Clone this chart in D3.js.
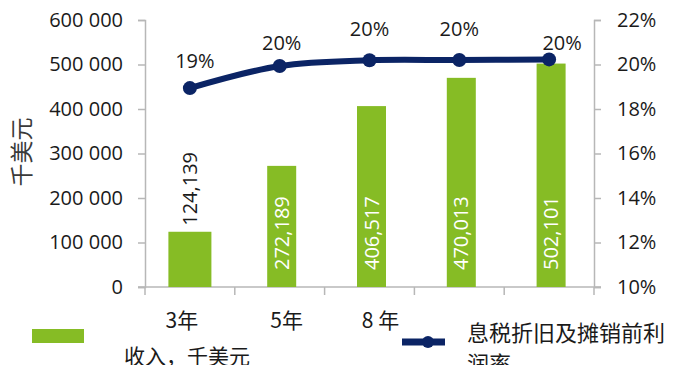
<!DOCTYPE html>
<html>
<head>
<meta charset="utf-8">
<script src="https://cdn.jsdelivr.net/npm/d3@7"></script>
<style>
  html, body { margin: 0; padding: 0; background: #fff; }
  svg { display: block; }
</style>
</head>
<body>
<div id="vis"></div>
<script>
// Revenue bars (left axis, thousand USD) + EBITDA margin line (right axis).

const CATEGORIES = ["3年", "5年", "8 年", "", ""];
const REVENUE    = [124139, 272189, 406517, 470013, 502101];
const MARGIN     = [0.1894, 0.1993, 0.2019, 0.2020, 0.2023];
const MARGIN_LBL = ["19%", "20%", "20%", "20%", "20%"];
const LEFT_TICKS  = [0, 100000, 200000, 300000, 400000, 500000, 600000];
const RIGHT_TICKS = [0.10, 0.12, 0.14, 0.16, 0.18, 0.20, 0.22];

// layout tweaks (Excel places things a bit unevenly)
const BAR_W      = [43, 29, 29, 29, 29];
const BAR_DX     = [0, 2, 2, 2, 2];
const TICK_DX    = [-8, 7, 11, 0, 0];
const PCT_DX     = [5, 2, 0, 0, 13];
const PCT_DY     = [-20, -16, -24, -24, -9];

const GREEN = "#86BC25";
const NAVY  = "#0B2465";
const GRID  = "#B7B7B7";
const NUM_FONT = "'Open Sans', sans-serif";
const CJK_FONT = "'Noto Sans CJK SC', sans-serif";

const W = 680, H = 365;
const plot = { left: 145, right: 594, top: 20, bottom: 287 };

const svg = d3.select("#vis").append("svg")
  .attr("width", W).attr("height", H);

const x = d3.scaleBand()
  .domain(d3.range(CATEGORIES.length))
  .range([plot.left, plot.right])
  .padding(0);

const yL = d3.scaleLinear().domain([0, 600000]).range([plot.bottom, plot.top]);
const yR = d3.scaleLinear().domain([0.10, 0.22]).range([plot.bottom, plot.top]);

const cx = i => x(i) + x.bandwidth() / 2;

// ── Axes ──────────────────────────────────────────────────────────────────

const spaceFmt = d => d3.format(",")(d).replace(/,/g, " ");

svg.append("g")
  .attr("transform", `translate(${plot.left},0)`)
  .call(d3.axisLeft(yL).tickValues(LEFT_TICKS).tickSize(7).tickPadding(15).tickFormat(spaceFmt))
  .call(g => g.select(".domain").attr("stroke", GRID).attr("stroke-width", 1.5))
  .call(g => g.selectAll(".tick line").attr("stroke", GRID).attr("stroke-width", 1.5))
  .call(g => g.selectAll("text")
    .style("font-family", NUM_FONT).style("font-size", "20px").attr("fill", "#1a1a1a"));

svg.append("g")
  .attr("transform", `translate(${plot.right},0)`)
  .call(d3.axisRight(yR).tickValues(RIGHT_TICKS).tickSize(7).tickPadding(16).tickFormat(d3.format(".0%")))
  .call(g => g.select(".domain").attr("stroke", GRID).attr("stroke-width", 1.5))
  .call(g => g.selectAll(".tick line").attr("stroke", GRID).attr("stroke-width", 1.5))
  .call(g => g.selectAll("text")
    .style("font-family", NUM_FONT).style("font-size", "20px").attr("fill", "#1a1a1a"));

// bottom axis with ticks on category boundaries
const bottom = svg.append("g");
bottom.append("line")
  .attr("x1", plot.left - 7).attr("x2", plot.right + 7)
  .attr("y1", plot.bottom).attr("y2", plot.bottom)
  .attr("stroke", GRID).attr("stroke-width", 1.5);
bottom.selectAll("line.tk")
  .data(d3.range(CATEGORIES.length + 1))
  .join("line").attr("class", "tk")
  .attr("x1", i => i < CATEGORIES.length ? x(i) : plot.right)
  .attr("x2", i => i < CATEGORIES.length ? x(i) : plot.right)
  .attr("y1", plot.bottom).attr("y2", plot.bottom + 8)
  .attr("stroke", GRID).attr("stroke-width", 1.5);
bottom.selectAll("text")
  .data(CATEGORIES)
  .join("text")
  .attr("x", (d, i) => cx(i) + TICK_DX[i])
  .attr("y", 328)
  .attr("text-anchor", "middle")
  .style("font-family", CJK_FONT).style("font-size", "21px")
  .attr("fill", "#1a1a1a")
  .text(d => d);

// y title
svg.append("text")
  .attr("transform", `translate(30,152) rotate(-90)`)
  .attr("text-anchor", "middle")
  .style("font-family", CJK_FONT).style("font-size", "23px")
  .attr("fill", "#3a3a3a")
  .text("千美元");

// ── Bars ──────────────────────────────────────────────────────────────────

svg.append("g").selectAll("rect")
  .data(REVENUE)
  .join("rect")
  .attr("x", (d, i) => cx(i) + BAR_DX[i] - BAR_W[i] / 2)
  .attr("width", (d, i) => BAR_W[i])
  .attr("y", d => yL(d))
  .attr("height", d => plot.bottom - yL(d))
  .attr("fill", GREEN);

// bar labels: first one above the bar (dark), others inside (white)
svg.append("g").selectAll("text")
  .data(REVENUE)
  .join("text")
  .attr("transform", (d, i) => {
    const tx = cx(i) + BAR_DX[i] + 7;
    const ty = i === 0 ? yL(d) - 6 : plot.bottom - 17;
    return `translate(${tx},${ty}) rotate(-90)`;
  })
  .attr("text-anchor", "start")
  .style("font-family", NUM_FONT).style("font-size", "20px")
  .attr("fill", (d, i) => i === 0 ? "#1a1a1a" : "#fff")
  .text(d => d3.format(",")(d));

// ── Margin line ───────────────────────────────────────────────────────────

const line = d3.line()
  .x((d, i) => cx(i))
  .y(d => yR(d))
  .curve(d3.curveCatmullRom.alpha(0.5));

svg.append("path")
  .datum(MARGIN)
  .attr("d", line)
  .attr("fill", "none")
  .attr("stroke", NAVY)
  .attr("stroke-width", 6)
  .attr("stroke-linecap", "round");

svg.append("g").selectAll("circle")
  .data(MARGIN)
  .join("circle")
  .attr("cx", (d, i) => cx(i))
  .attr("cy", d => yR(d))
  .attr("r", 7)
  .attr("fill", NAVY);

svg.append("g").selectAll("text")
  .data(MARGIN)
  .join("text")
  .attr("x", (d, i) => cx(i) + PCT_DX[i])
  .attr("y", (d, i) => yR(d) + PCT_DY[i])
  .attr("text-anchor", "middle")
  .style("font-family", NUM_FONT).style("font-size", "20px")
  .attr("fill", "#1a1a1a")
  .text((d, i) => MARGIN_LBL[i]);

// ── Legend ────────────────────────────────────────────────────────────────

svg.append("rect")
  .attr("x", 32).attr("y", 329).attr("width", 52).attr("height", 14)
  .attr("fill", GREEN);
svg.append("text")
  .attr("x", 124).attr("y", 364)
  .style("font-family", CJK_FONT).style("font-size", "21px")
  .attr("fill", "#1a1a1a")
  .text("收入，千美元");

svg.append("line")
  .attr("x1", 402).attr("x2", 445).attr("y1", 342).attr("y2", 342)
  .attr("stroke", NAVY).attr("stroke-width", 7);
svg.append("circle")
  .attr("cx", 428).attr("cy", 342).attr("r", 6).attr("fill", NAVY);
const lt = svg.append("text")
  .style("font-family", CJK_FONT).style("font-size", "22px")
  .attr("fill", "#1a1a1a");
lt.append("tspan").attr("x", 467).attr("y", 341).text("息税折旧及摊销前利");
lt.append("tspan").attr("x", 467).attr("y", 372).text("润率");
</script>
</body>
</html>
